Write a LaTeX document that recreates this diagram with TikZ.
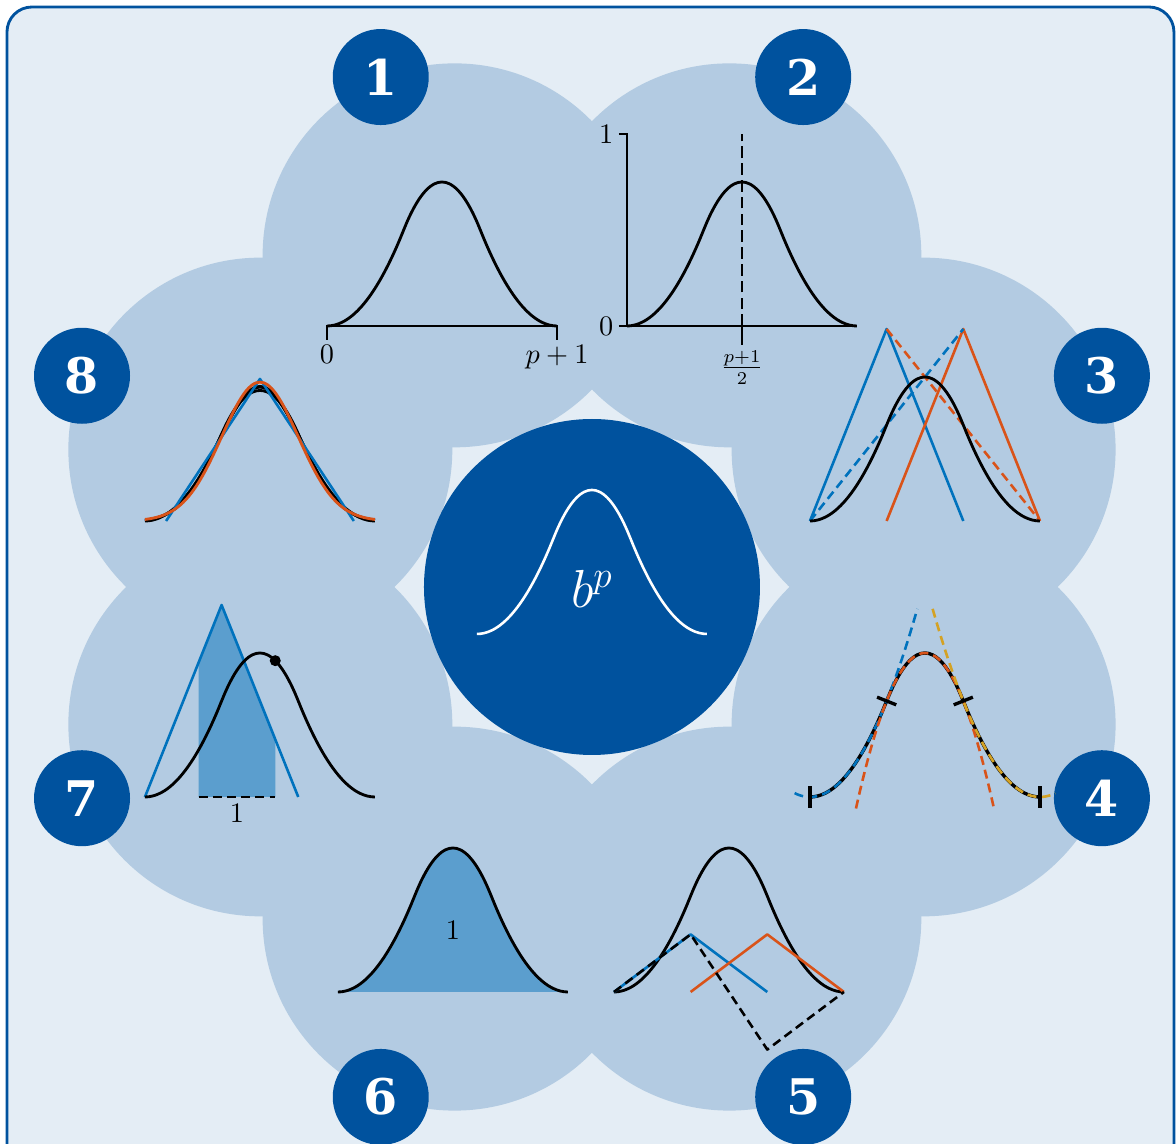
\documentclass[tikz,border=0pt]{standalone}
\usepackage{fontspec}
\setmainfont{DejaVu Serif}
\usetikzlibrary{positioning,calc}
\definecolor{DeepBlue}{RGB}{0,82,158}
\definecolor{PaleBand}{RGB}{228,237,245}
\definecolor{DiskBlue}{RGB}{179,203,226}
\definecolor{FillBlue}{RGB}{91,158,206}
\definecolor{LineBlue}{RGB}{0,114,189}
\definecolor{LineOrange}{RGB}{217,83,25}
\definecolor{LineGold}{RGB}{212,162,36}
\tikzset{
  disk/.style={circle,fill=DiskBlue,minimum size=5.224cm,inner sep=0pt},
  hub/.style={circle,fill=DeepBlue,minimum size=4.571cm,inner sep=0pt},
  badge/.style={circle,fill=DeepBlue,text=white,minimum size=1.306cm,inner sep=0pt,
    font=\fontsize{19}{23}\selectfont\bfseries},
  curve/.style={line width=1.1pt,draw=black,smooth,samples=61},
  bluehat/.style={line width=1pt,draw=LineBlue,line join=round},
  orangehat/.style={line width=1pt,draw=LineOrange,line join=round},
  dashes/.style={dash pattern=on 3.5pt off 2pt},
  dashpiece/.style={line width=1pt,dashes,smooth,samples=41},
  axisline/.style={line width=1.1pt,draw=black},
  plotlabel/.style={font=\fontsize{10.5}{12}\selectfont,inner sep=2pt},
  panel/.style={xscale=1.043,yscale=2.612},
  declare function={
    bq(\x)=0.5*(max(\x,0)^2-3*max(\x-1,0)^2+3*max(\x-2,0)^2-max(\x-3,0)^2);
    bc(\x)=(max(\x,0)^3-4*max(\x-1,0)^3+6*max(\x-2,0)^3-4*max(\x-3,0)^3)/6;
    bf(\x)=(max(\x,0)^4-5*max(\x-1,0)^4+10*max(\x-2,0)^4-10*max(\x-3,0)^4)/24;
  }
}

\begin{document}
\begin{tikzpicture}
  \useasboundingbox (-8.054,-7.565) rectangle (7.946,7.986);
  \draw[DeepBlue,line width=1.1pt,fill=PaleBand,rounded corners=0.34cm]
    (-7.959,7.891) rectangle (7.918,-8.3);

  % ring of disks
  \foreach \n/\a in {1/112.5,2/67.5,3/22.5,4/-22.5,5/-67.5,6/-112.5,7/-157.5,8/157.5}
    \node[disk] (d\n) at (\a:4.884) {};
  \node[hub] (hub) at (0,0) {};
  \foreach \n/\a in {1/112.5,2/67.5,3/22.5,4/-22.5,5/-67.5,6/-112.5,7/-157.5,8/157.5}
    \node[badge] (n\n) at (\a:7.51) {\n};

  % centre
  \begin{scope}[shift={(-1.565,-0.639)},panel]
    \draw[curve,white,line width=1pt] plot[domain=0:3] (\x,{bq(\x)});
  \end{scope}
  \node[text=white,font=\fontsize{21}{24}\selectfont] (bp) at (0,-0.02) {$b^p$};

  % 1: support
  \begin{scope}[shift={(-3.605,3.551)},panel]
    \draw[axisline] (0,-0.073) -- (0,0) -- (3,0) -- (3,-0.073);
    \draw[curve] plot[domain=0:3] (\x,{bq(\x)});
    \node[plotlabel,anchor=north] (s0) at (0,-0.073) {$0$};
    \node[plotlabel,anchor=north] (s1) at (3,-0.073) {$p+1$};
  \end{scope}

  % 2: bounds and symmetry
  \begin{scope}[shift={(0.476,3.551)},panel]
    \draw[axisline] (-0.105,1) -- (0,1) -- (0,0);
    \draw[axisline] (-0.105,0) -- (3,0);
    \draw[axisline] (1.5,0) -- (1.5,-0.1);
    \draw[axisline,dash pattern=on 4.5pt off 2pt] (1.5,0) -- (1.5,1);
    \draw[curve] plot[domain=0:3] (\x,{bq(\x)});
    \node[plotlabel,anchor=east] (y1) at (-0.105,1) {$1$};
    \node[plotlabel,anchor=east] (y0) at (-0.105,0) {$0$};
    \node[plotlabel,anchor=north] (mid) at (1.5,-0.1) {$\frac{p+1}{2}$};
  \end{scope}

  % 3: recursion
  \begin{scope}[shift={(2.966,0.898)},panel]
    \draw[bluehat] (0,0) -- (1,1) -- (2,0);
    \draw[orangehat] (1,0) -- (2,1) -- (3,0);
    \draw[bluehat,dashes] (0,0) -- (2,1);
    \draw[orangehat,dashes] (1,1) -- (3,0);
    \draw[curve] plot[domain=0:3] (\x,{bq(\x)});
  \end{scope}

  % 4: piecewise polynomial
  \begin{scope}[shift={(2.966,-2.857)},panel]
    \draw[curve,line width=1.3pt] plot[domain=0:3] (\x,{bq(\x)});
    \draw[dashpiece,LineBlue] plot[domain=-0.2:1.4] (\x,{0.5*(\x)*(\x)});
    \draw[dashpiece,LineOrange] plot[domain=0.6:2.4] (\x,{0.75-(\x-1.5)*(\x-1.5)});
    \draw[dashpiece,LineGold] plot[domain=1.6:3.2] (\x,{0.5*(3-\x)*(3-\x)});
    \draw[axisline,line width=1.3pt] (0,0) ++(0,0.055) -- ++(0,-0.11);
    \draw[axisline,line width=1.3pt] (3,0) ++(0,0.055) -- ++(0,-0.11);
    \draw[axisline,line width=1.3pt] (1,0.5) ++(-0.125,0.02) -- ++(0.25,-0.04);
    \draw[axisline,line width=1.3pt] (2,0.5) ++(-0.125,-0.02) -- ++(0.25,0.04);
  \end{scope}

  % 5: derivative
  \begin{scope}[shift={(0.299,-5.51)},panel]
    \draw[curve] plot[domain=0:3] (\x,{bq(\x)});
    \draw[bluehat] (0,0) -- (1,0.3) -- (2,0);
    \draw[orangehat] (1,0) -- (2,0.3) -- (3,0);
    \draw[axisline,line width=1pt,dashes,line join=round]
      (0,0) -- (1,0.3) -- (2,-0.3) -- (3,0);
  \end{scope}

  % 6: unit integral
  \begin{scope}[shift={(-3.456,-5.51)},panel]
    \fill[FillBlue] plot[smooth,samples=61,domain=0:3] (\x,{bq(\x)}) -- cycle;
    \draw[curve] plot[domain=0:3] (\x,{bq(\x)});
    \node[plotlabel] (area) at (1.5,0.32) {$1$};
  \end{scope}

  % 7: convolution
  \begin{scope}[shift={(-6.082,-2.857)},panel]
    \fill[FillBlue] (0.7,0) -- (0.7,0.7) -- (1,1) -- (1.7,0.3) -- (1.7,0) -- cycle;
    \draw[bluehat] (0,0) -- (1,1) -- (2,0);
    \draw[curve] plot[domain=0:3] (\x,{bq(\x)});
    \draw[axisline,line width=1pt,dashes] (0.7,0) -- (1.7,0);
    \coordinate (knot) at (1.7,{bq(1.7)});
    \node[plotlabel,anchor=north] (width) at (1.2,-0.01) {$1$};
  \end{scope}
  \fill (knot) circle[radius=0.075cm];

  % 8: towards the Gaussian
  \begin{scope}[shift={(-4.517,0.898)},xscale=0.5215,yscale=4.735]
    \draw[curve] plot[domain=-3:3] (\x,{0.5*bq(1.5-0.5*abs(\x))});
    \draw[curve] plot[domain=-3:3] (\x,{0.57735*bc(2-0.57735*abs(\x))});
    \draw[curve] plot[domain=-3:3] (\x,{0.6455*bf(2.5-0.6455*abs(\x))});
    \draw[bluehat] (-2.449,0) -- (0,0.4082) -- (2.449,0);
    \draw[curve,draw=LineOrange] plot[domain=-3:3] (\x,{0.39894*exp(-0.5*(\x)*(\x))});
  \end{scope}
\end{tikzpicture}
\end{document}
